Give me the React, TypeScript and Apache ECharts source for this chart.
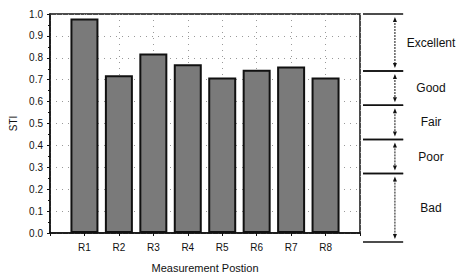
import React, { useEffect, useRef } from "react";
import * as echarts from "echarts";

const categories = ["R1", "R2", "R3", "R4", "R5", "R6", "R7", "R8"];
const stiValues = [0.98, 0.72, 0.82, 0.77, 0.71, 0.745, 0.76, 0.71];
const yTicks = [0, 0.1, 0.2, 0.3, 0.4, 0.5, 0.6, 0.7, 0.8, 0.9, 1.0];
const bandNames = ["Excellent", "Good", "Fair", "Poor", "Bad"];
const bandUpper = [1.0, 0.75, 0.6, 0.45, 0.3];
const bandLower = [0.75, 0.6, 0.45, 0.3, 0.0];

const FONT = 'Arial, "Liberation Sans", Helvetica, sans-serif';

export default function App() {
  const ref = useRef<HTMLDivElement>(null);
  useEffect(() => {
    if (!ref.current) return;
    const chart = echarts.init(ref.current, null, { renderer: "svg" });
    const bandData = bandNames.map((_, i) => [bandUpper[i], bandLower[i], i]);
    const option: any = {
      animation: false,
      backgroundColor: "#ffffff",
      grid: [
        {
          left: 50,
          right: 106,
          top: 14,
          bottom: 36,
          show: true,
          borderColor: "#111",
          borderWidth: 1.5,
        },
        { left: 363, right: 0, top: 14, bottom: 36 },
      ],
      xAxis: [
        {
          type: "value",
          gridIndex: 0,
          min: 0,
          max: categories.length + 1,
          interval: 1,
          name: "Measurement Postion",
          nameLocation: "middle",
          nameGap: 29,
          nameTextStyle: { fontFamily: FONT, fontSize: 11, color: "#111" },
          axisLine: { show: true, lineStyle: { color: "#111", width: 1.5 } },
          axisTick: { show: true, length: 3, lineStyle: { color: "#111" } },
          axisLabel: {
            fontFamily: FONT,
            fontSize: 10,
            color: "#111",
            margin: 9,
            formatter: (v: number) => categories[Math.round(v) - 1] ?? "",
          },
          splitLine: {
            show: true,
            lineStyle: { color: "#999", type: [1, 5], width: 1 },
          },
        },
        { type: "value", gridIndex: 1, min: 0, max: 100, show: false },
      ],
      yAxis: [
        {
          type: "value",
          gridIndex: 0,
          min: 0,
          max: 1,
          interval: 0.1,
          name: "STI",
          nameLocation: "middle",
          nameGap: 32,
          nameTextStyle: { fontFamily: FONT, fontSize: 10, color: "#111" },
          axisLine: { show: true, lineStyle: { color: "#111", width: 1.5 } },
          axisTick: { show: true, inside: false, length: 3, lineStyle: { color: "#111" } },
          minorTick: { show: true, splitNumber: 2, length: 2, lineStyle: { color: "#111" } },
          axisLabel: {
            fontFamily: FONT,
            fontSize: 10,
            color: "#111",
            margin: 7,
            formatter: (v: number) => {
              const t = yTicks.find((y) => Math.abs(y - v) < 1e-6);
              return (t ?? v).toFixed(1);
            },
          },
          splitLine: {
            show: true,
            lineStyle: { color: "#999", type: [1, 5], width: 1 },
          },
        },
        { type: "value", gridIndex: 1, min: 0, max: 1, show: false },
      ],
      series: [
        {
          type: "bar",
          xAxisIndex: 0,
          yAxisIndex: 0,
          barWidth: 28,
          data: stiValues.map((v, i) => [i + 1, v]),
          itemStyle: { color: "#7a7a7a", borderColor: "#111", borderWidth: 2 },
        },
        {
          type: "custom",
          xAxisIndex: 1,
          yAxisIndex: 1,
          clip: false,
          data: bandData,
          renderItem: (params: any, api: any) => {
            const hi = api.value(0);
            const lo = api.value(1);
            const idx = api.value(2);
            const l = api.coord([0, hi]);
            const r = api.coord([39, hi]);
            const lb = api.coord([0, lo]);
            const rb = api.coord([39, lo]);
            const ax = api.coord([31, hi])[0];
            const ty = l[1] + 3;
            const by = lb[1] - 3;
            const lx = api.coord([66, hi])[0];
            const my = (l[1] + lb[1]) / 2;
            const stroke = "#111";
            return {
              type: "group",
              children: [
                { type: "line", shape: { x1: l[0], y1: l[1], x2: r[0], y2: r[1] }, style: { stroke, lineWidth: 1.5 } },
                { type: "line", shape: { x1: lb[0], y1: lb[1], x2: rb[0], y2: rb[1] }, style: { stroke, lineWidth: 1.5 } },
                { type: "line", shape: { x1: ax, y1: ty + 3, x2: ax, y2: by - 3 }, style: { stroke, lineWidth: 1, lineDash: [2, 1] } },
                { type: "polygon", shape: { points: [[ax, ty], [ax - 2, ty + 5], [ax + 2, ty + 5]] }, style: { fill: stroke } },
                { type: "polygon", shape: { points: [[ax, by], [ax - 2, by - 5], [ax + 2, by - 5]] }, style: { fill: stroke } },
                {
                  type: "text",
                  x: lx,
                  y: my,
                  style: {
                    text: bandNames[idx],
                    fill: "#111",
                    font: `12px ${FONT}`,
                    align: "center",
                    verticalAlign: "middle",
                  },
                },
              ],
            };
          },
        },
      ],
    };
    chart.setOption(option);
    return () => chart.dispose();
  }, []);
  return (
    <div
      ref={ref}
      style={{ position: "fixed", left: 0, top: 0, width: 466, height: 278, background: "#fff" }}
    />
  );
}
